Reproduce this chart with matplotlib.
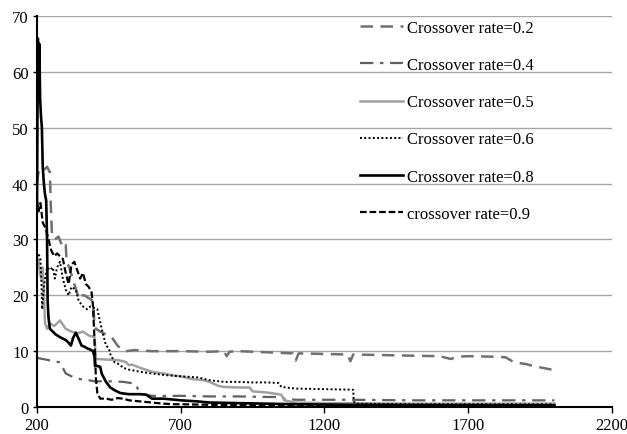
import matplotlib
matplotlib.use("Agg")
import matplotlib.pyplot as plt

plt.rcParams['font.family'] = ['Liberation Serif', 'DejaVu Serif']

# values
x02 = [200, 205, 215, 225, 235, 245, 248, 252, 262, 275, 290, 300, 303, 312, 330, 345, 350, 365, 380, 395,
       400, 405, 420, 440, 460, 480, 495, 510, 540, 600, 700, 800, 850, 860, 870, 900, 1000, 1090, 1100, 1110,
       1200, 1280, 1290, 1300, 1400, 1500, 1600, 1640, 1660, 1700, 1800, 1830, 1860, 1900, 1930, 1960, 2000]
y02 = [40, 42, 43, 42.5, 43, 42, 36, 31, 30, 30.5, 28.5, 29, 26, 25, 22, 19.5, 20, 20, 19.5, 19,
       14.5, 14, 13.5, 13, 12.5, 11, 10.3, 10, 10.2, 10, 10, 9.9, 10, 9.1, 9.9, 10, 9.8, 9.6, 8.3, 9.6,
       9.5, 9.4, 8.2, 9.4, 9.3, 9.2, 9.1, 8.6, 9.0, 9.1, 9.0, 8.9, 8.0, 7.7, 7.3, 7.0, 6.6]

x04 = [200, 230, 260, 280, 290, 300, 320, 350, 380, 400, 420, 460, 500, 540, 560, 570, 580, 600, 640, 700,
       800, 900, 1000, 1050, 1060, 1100, 1300, 1500, 1700, 2000]
y04 = [8.8, 8.5, 8.2, 8, 7, 6, 5.5, 5, 4.8, 4.6, 4.6, 4.6, 4.5, 4.2, 2.5, 2.3, 2.2, 2, 2, 2,
       1.9, 1.9, 1.8, 1.8, 1.5, 1.3, 1.3, 1.2, 1.2, 1.2]

x05 = [200, 205, 210, 215, 220, 228, 235, 245, 260, 280, 300, 320, 340, 360, 380, 400, 405, 410, 440, 480,
       500, 510, 520, 530, 560, 600, 640, 680, 700, 740, 780, 800, 830, 850, 900, 940, 950, 1000, 1040, 1050,
       1060, 1080, 1100, 1200, 1500, 2000]
y05 = [25, 26.5, 24, 23, 25, 15, 14, 15, 14.5, 15.5, 14, 13.5, 13.2, 13.5, 12.8, 12.5, 8.6, 8.6, 8.5, 8.4,
       8.2, 8, 7.5, 7.6, 7, 6.3, 6, 5.6, 5.5, 5, 4.8, 4.5, 3.8, 3.6, 3.5, 3.5, 2.8, 2.6, 2.3, 2.2,
       1.2, 1.0, 0.8, 0.7, 0.6, 0.6]

x06 = [200, 205, 212, 215, 218, 225, 235, 245, 255, 262, 270, 280, 290, 300, 310, 320, 335, 345, 360, 375,
       385, 395, 410, 425, 440, 450, 455, 460, 470, 480, 490, 500, 520, 540, 560, 600, 650, 700, 760, 800,
       850, 900, 950, 1000, 1040, 1050, 1100, 1200, 1300, 1302, 1310, 1500, 2000]
y06 = [27, 27.5, 26.5, 23, 17.5, 22, 25, 24.5, 25, 23, 25, 26, 23, 21, 20, 21.5, 21, 19, 18, 17.5,
       18, 17.8, 17.5, 14, 11, 10.5, 9.5, 9, 8, 7.8, 7.5, 7, 6.7, 6.5, 6.3, 6, 5.7, 5.5, 5.3, 4.8,
       4.5, 4.5, 4.4, 4.4, 4.3, 3.6, 3.3, 3.2, 3.1, 1, 0.6, 0.5, 0.5]

x08 = [200, 203, 206, 208, 211, 214, 217, 220, 224, 228, 232, 235, 237, 240, 245, 255, 265, 280, 300, 310,
       318, 325, 335, 345, 355, 365, 375, 385, 395, 400, 402, 405, 420, 425, 430, 440, 455, 470, 490, 520,
       560, 580, 600, 640, 680, 700, 760, 800, 900, 1000, 1100, 1300, 1500, 2000]
y08 = [36, 66, 60, 65, 55, 52, 50, 43, 40, 38, 37, 30, 19, 16, 14, 13.5, 13, 12.5, 12, 11.5,
       11, 12.3, 13.3, 12.2, 11, 10.8, 10.5, 10.3, 10, 9, 7.3, 7.4, 7.2, 6, 5.5, 4.5, 3.5, 3, 2.5, 2.3,
       2.3, 2.2, 1.5, 1.5, 1.3, 1.2, 1.0, 0.8, 0.7, 0.6, 0.5, 0.4, 0.35, 0.3]

x09 = [200, 205, 212, 220, 230, 240, 250, 260, 270, 280, 290, 300, 310, 320, 330, 340, 350, 360, 370, 380,
       390, 395, 400, 405, 410, 420, 440, 460, 480, 500, 520, 560, 600, 640, 680, 700, 800, 1000, 1500, 2000]
y09 = [37, 35, 36.5, 33, 32, 30, 28, 27, 27.5, 27, 26.5, 24, 22, 25.5, 26, 24.5, 23, 24, 22, 21.5,
       20.5, 18, 12, 5, 2.5, 1.5, 1.5, 1.3, 1.6, 1.5, 1.2, 1.0, 0.8, 0.6, 0.5, 0.5, 0.4, 0.3, 0.3, 0.3]

fig = plt.figure(figsize=(6.27, 4.35), dpi=100)
ax = fig.add_axes([0.059, 0.062, 0.917, 0.899])

ax.plot(x02, y02, color='#707070', lw=1.8, dashes=(5, 3), label='Crossover rate=0.2')
ax.plot(x04, y04, color='#606060', lw=1.6, dashes=(6, 3, 1.5, 3), label='Crossover rate=0.4')
ax.plot(x05, y05, color='#a0a0a0', lw=1.8, label='Crossover rate=0.5')
ax.plot(x06, y06, color='black', lw=1.4, linestyle=(0, (1, 1.2)), label='Crossover rate=0.6')
ax.plot(x08, y08, color='black', lw=1.9, label='Crossover rate=0.8')
ax.plot(x09, y09, color='black', lw=1.6, dashes=(3, 1.3), label='crossover rate=0.9')

ax.set_xlim(200, 2200)
ax.set_ylim(0, 70)
ax.set_xticks(range(200, 2201, 500))
ax.set_yticks(range(0, 71, 10))
ax.yaxis.grid(True, color='#a6a6a6', lw=1)
ax.set_axisbelow(True)
for s in ['top', 'right']:
    ax.spines[s].set_visible(False)
ax.spines['left'].set_linewidth(1.5)
ax.spines['bottom'].set_linewidth(1.5)
ax.tick_params(axis='x', length=4, width=1, labelsize=12, pad=3)
ax.tick_params(axis='y', length=3, width=1, labelsize=12, pad=3)

ax.legend(loc='upper left', bbox_to_anchor=(360 / 627, 1 - 21 / 435), bbox_transform=fig.transFigure,
          frameon=False, fontsize=12, labelspacing=1.27, handlelength=2.6, handletextpad=0.2,
          borderaxespad=0, borderpad=0)

fig.savefig('out.png', dpi=100)
